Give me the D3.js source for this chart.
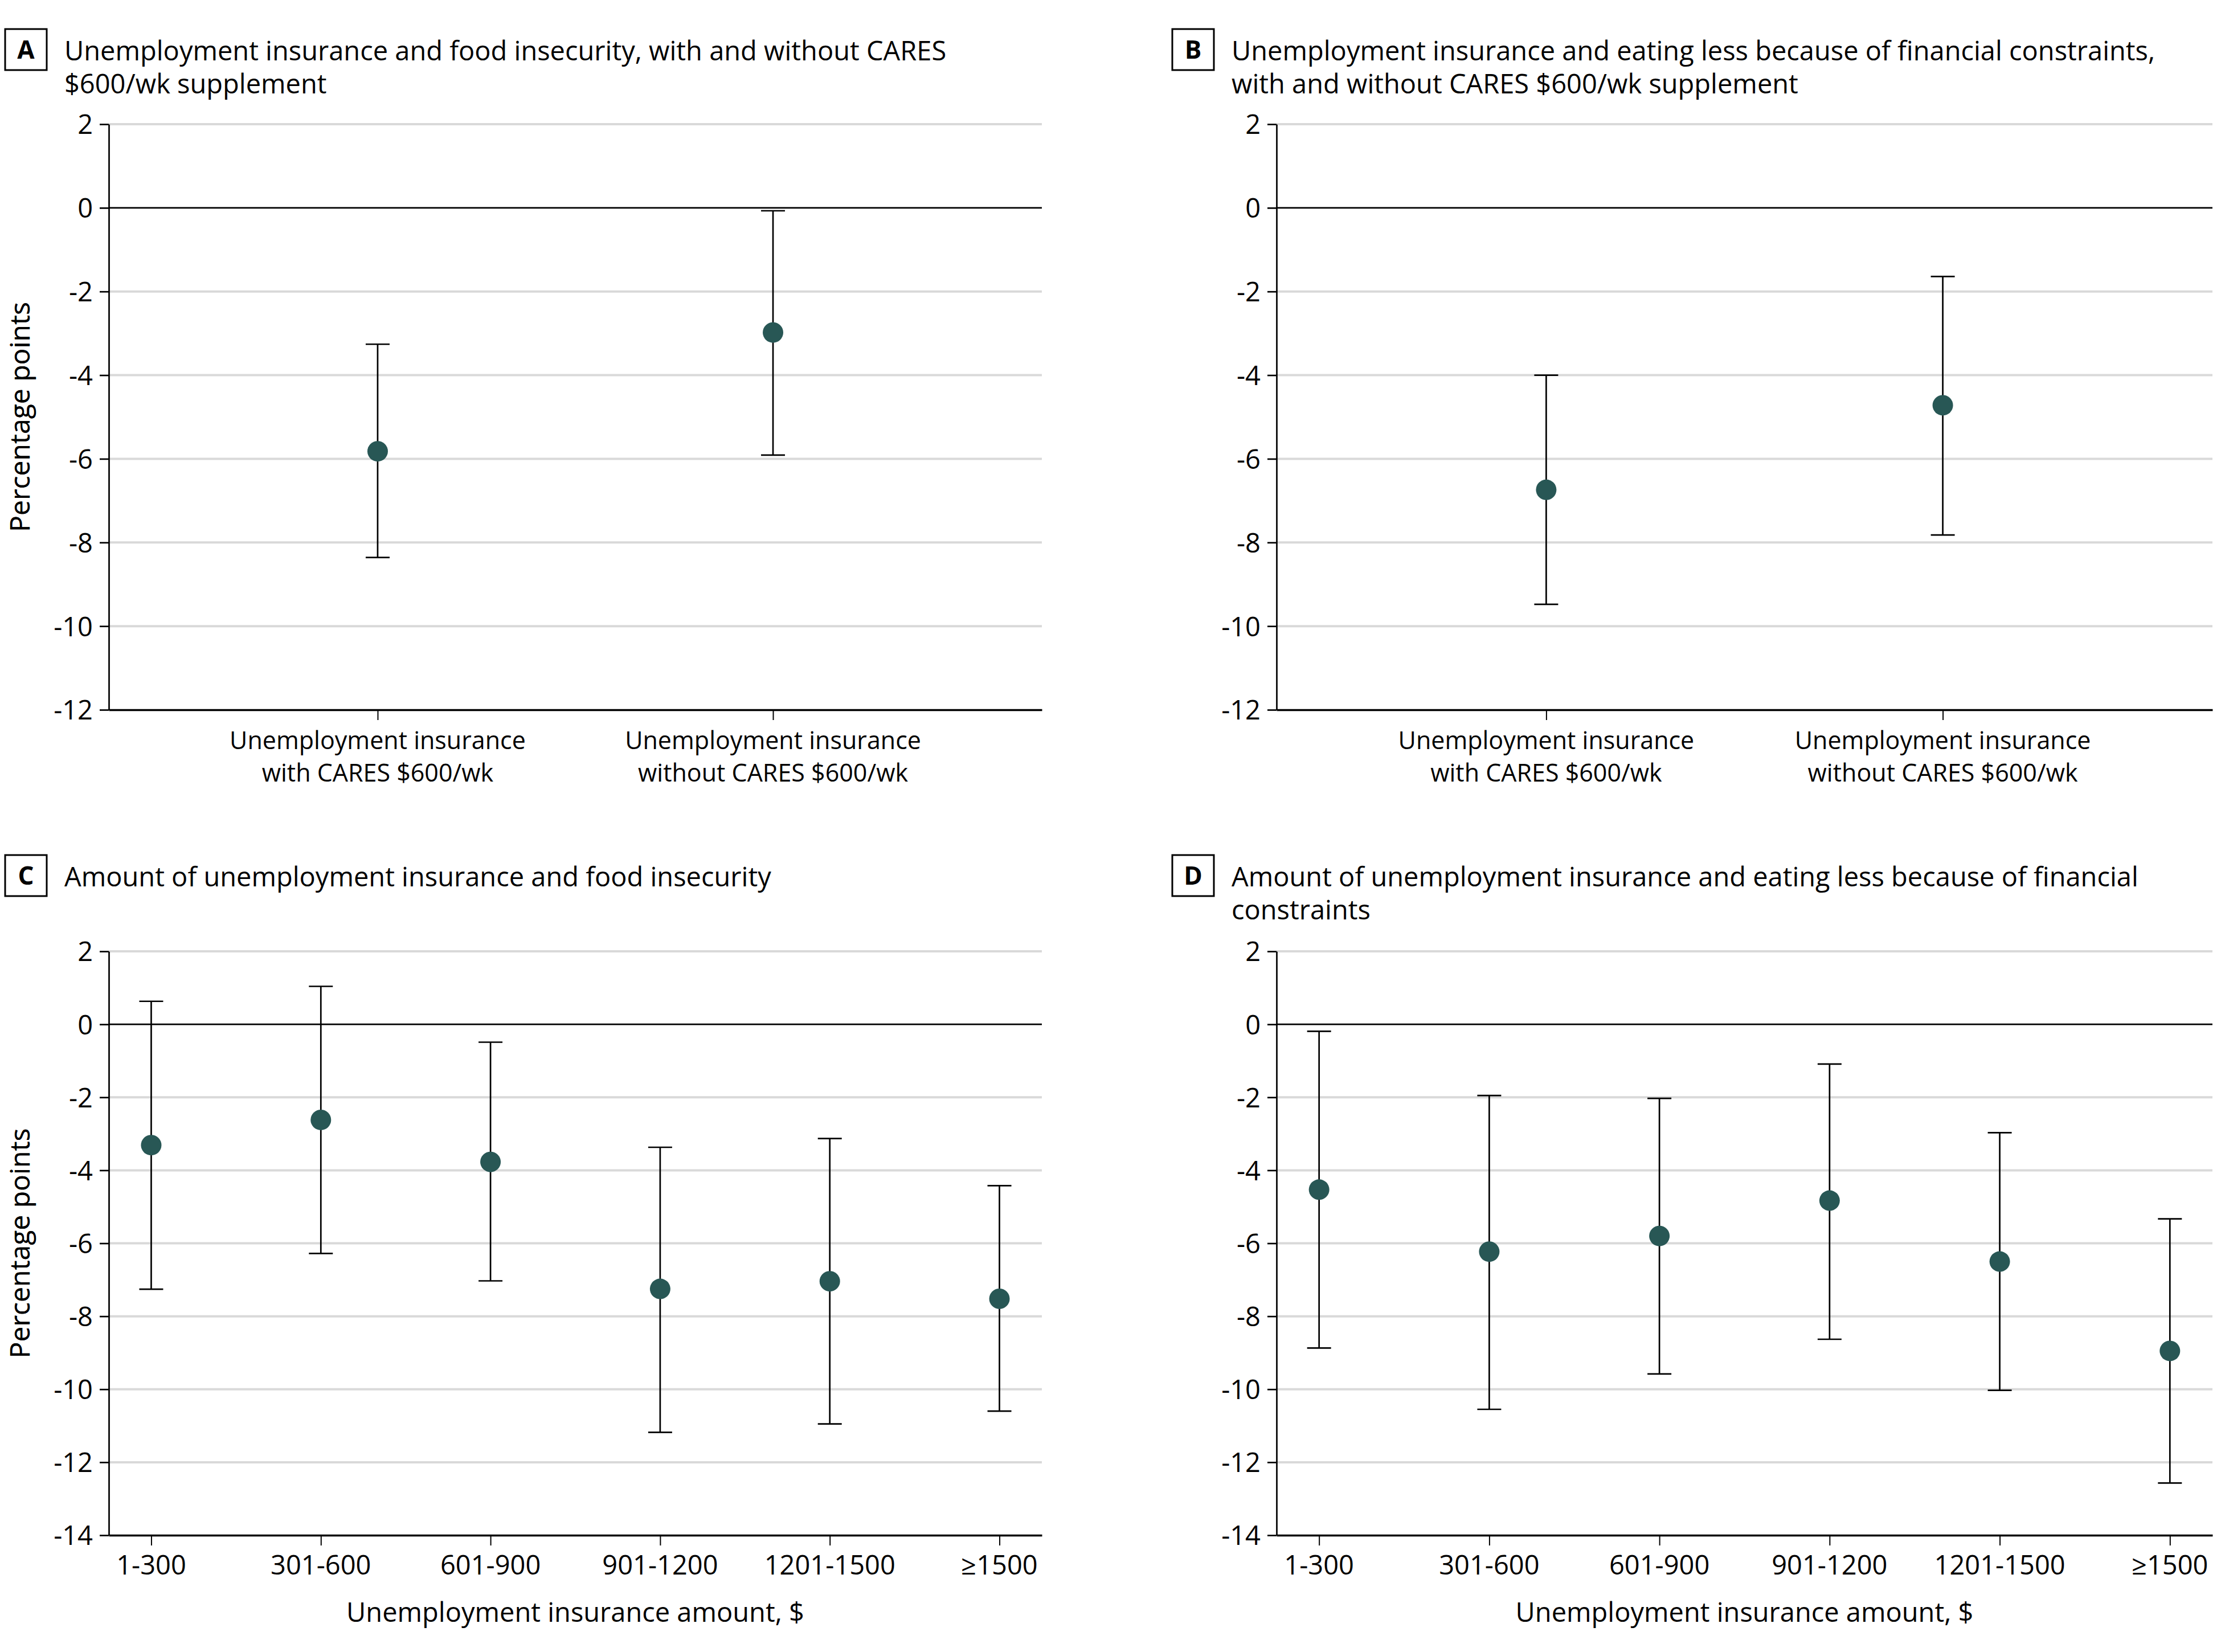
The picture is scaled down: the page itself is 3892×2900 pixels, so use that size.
<!DOCTYPE html>
<html>
<head>
<meta charset="utf-8">
<script src="https://cdn.jsdelivr.net/npm/d3@7"></script>
<style>
  html, body { margin: 0; padding: 0; background: #fff; }
  svg { display: block; }
  text { font-family: "Open Sans", "Noto Sans", sans-serif; fill: #000; }
</style>
</head>
<body>
<script>
// ---------- DATA ----------
const labelsAB = ["Unemployment insurance|with CARES $600/wk", "Unemployment insurance|without CARES $600/wk"];
const labelsCD = ["1-300", "301-600", "601-900", "901-1200", "1201-1500", "\u22651500"];

const estA = [-5.82, -2.98];
const lowA = [-8.36, -5.91];
const highA = [-3.26, -0.07];

const estB = [-6.74, -4.72];
const lowB = [-9.48, -7.82];
const highB = [-4.00, -1.64];

const estC = [-3.31, -2.62, -3.77, -7.25, -7.04, -7.52];
const lowC = [-7.26, -6.28, -7.03, -11.18, -10.95, -10.60];
const highC = [0.63, 1.04, -0.49, -3.37, -3.13, -4.42];

const estD = [-4.53, -6.23, -5.80, -4.83, -6.50, -8.95];
const lowD = [-8.87, -10.55, -9.58, -8.63, -10.03, -12.57];
const highD = [-0.19, -1.95, -2.03, -1.09, -2.97, -5.33];

const yTicksAB = [-12, -10, -8, -6, -4, -2, 0, 2];
const yTicksCD = [-14, -12, -10, -8, -6, -4, -2, 0, 2];

const titleA = ["Unemployment insurance and food insecurity, with and without CARES", "$600/wk supplement"];
const titleB = ["Unemployment insurance and eating less because of financial constraints,", "with and without CARES $600/wk supplement"];
const titleC = ["Amount of unemployment insurance and food insecurity"];
const titleD = ["Amount of unemployment insurance and eating less because of financial", "constraints"];

const yTitle = "Percentage points";
const xTitleCD = "Unemployment insurance amount, $";

// ---------- LAYOUT ----------
const W = 3892, H = 2900;
const svg = d3.select("body").append("svg").attr("width", W).attr("height", H);

const dotColor = "#285755";
const gridColor = "#d9d9d9";

const panels = [
  { key: "A", title: titleA, cats: labelsAB, est: estA, lo: lowA, hi: highA, ticks: yTicksAB,
    x0: 191, x1: 1829, yTop: 218, yBot: 1246, pad: 0.68, boxX: 9, boxY: 51, titleX: 113, xTitle: null, xfs: 43 },
  { key: "B", title: titleB, cats: labelsAB, est: estB, lo: lowB, hi: highB, ticks: yTicksAB,
    x0: 2241, x1: 3884, yTop: 218, yBot: 1246, pad: 0.68, boxX: 2058, boxY: 51, titleX: 2162, xTitle: null, xfs: 43 },
  { key: "C", title: titleC, cats: labelsCD, est: estC, lo: lowC, hi: highC, ticks: yTicksCD,
    x0: 191, x1: 1829, yTop: 1670, yBot: 2695, pad: 0.25, boxX: 9, boxY: 1501, titleX: 113, xTitle: xTitleCD, xfs: 47 },
  { key: "D", title: titleD, cats: labelsCD, est: estD, lo: lowD, hi: highD, ticks: yTicksCD,
    x0: 2241, x1: 3884, yTop: 1670, yBot: 2695, pad: 0.25, boxX: 2058, boxY: 1501, titleX: 2162, xTitle: xTitleCD, xfs: 47 }
];

panels.forEach(p => {
  const g = svg.append("g");
  const ext = d3.extent(p.ticks);
  const y = d3.scaleLinear().domain(ext).range([p.yBot, p.yTop]);
  const x = d3.scalePoint().domain(p.cats).range([p.x0, p.x1]).padding(p.pad);

  // panel letter box
  g.append("rect").attr("x", p.boxX).attr("y", p.boxY).attr("width", 73).attr("height", 72)
    .attr("fill", "#fff").attr("stroke", "#000").attr("stroke-width", 3);
  g.append("text").attr("x", p.boxX + 36.5).attr("y", p.boxY + 52).attr("text-anchor", "middle")
    .style("font-weight", "700").style("font-size", "44px").text(p.key);

  // title
  p.title.forEach((line, i) => {
    g.append("text").attr("x", p.titleX).attr("y", p.boxY + 55 + i * 58)
      .style("font-size", "47px").text(line);
  });

  // gridlines
  g.append("g").selectAll("line").data(p.ticks.filter(t => t !== 0 && t !== ext[0])).join("line")
    .attr("x1", p.x0).attr("x2", p.x1).attr("y1", d => y(d)).attr("y2", d => y(d))
    .attr("stroke", gridColor).attr("stroke-width", 4);
  // zero line
  g.append("line").attr("x1", p.x0).attr("x2", p.x1).attr("y1", y(0)).attr("y2", y(0))
    .attr("stroke", "#000").attr("stroke-width", 2.7);

  // y axis
  const yAxis = d3.axisLeft(y).tickValues(p.ticks).tickSize(16).tickSizeOuter(0).tickPadding(12)
    .tickFormat(d => d < 0 ? "-" + Math.abs(d) : String(d));
  const ya = g.append("g").attr("transform", `translate(${p.x0},0)`).call(yAxis);
  ya.select(".domain").attr("stroke-width", 2.7);
  ya.selectAll(".tick line").attr("stroke-width", 2.7);
  ya.selectAll(".tick text").style("font-size", "47px").attr("font-family", null).attr("dy", "0.36em");

  // x axis
  const xAxis = d3.axisBottom(x).tickSize(18).tickSizeOuter(0).tickFormat("");
  const xa = g.append("g").attr("transform", `translate(0,${p.yBot})`).call(xAxis);
  xa.select(".domain").attr("stroke-width", 3.5);
  xa.selectAll(".tick line").attr("stroke-width", 2);

  // x tick labels (multi-line)
  p.cats.forEach(c => {
    c.split("|").forEach((line, i) => {
      g.append("text").attr("x", x(c)).attr("y", p.yBot + 69 + i * 57)
        .attr("text-anchor", "middle").style("font-size", p.xfs + "px").text(line);
    });
  });

  // y title
  g.append("text").attr("transform", `translate(52,${(p.yTop + p.yBot) / 2}) rotate(-90)`)
    .attr("text-anchor", "middle").style("font-size", "48px").text(yTitle);

  // x title
  if (p.xTitle) {
    g.append("text").attr("x", (p.x0 + p.x1) / 2).attr("y", p.yBot + 152)
      .attr("text-anchor", "middle").style("font-size", "47px").text(p.xTitle);
  }

  // error bars
  const data = p.cats.map((c, i) => ({ c, est: p.est[i], lo: p.lo[i], hi: p.hi[i] }));
  const eb = g.append("g").attr("stroke", "#000").attr("stroke-width", 2.7);
  eb.selectAll("line.v").data(data).join("line").attr("class", "v")
    .attr("x1", d => x(d.c)).attr("x2", d => x(d.c)).attr("y1", d => y(d.hi)).attr("y2", d => y(d.lo));
  eb.selectAll("line.t").data(data).join("line").attr("class", "t")
    .attr("x1", d => x(d.c) - 21).attr("x2", d => x(d.c) + 21).attr("y1", d => y(d.hi)).attr("y2", d => y(d.hi));
  eb.selectAll("line.b").data(data).join("line").attr("class", "b")
    .attr("x1", d => x(d.c) - 21).attr("x2", d => x(d.c) + 21).attr("y1", d => y(d.lo)).attr("y2", d => y(d.lo));

  g.append("g").selectAll("circle").data(data).join("circle")
    .attr("cx", d => x(d.c)).attr("cy", d => y(d.est)).attr("r", 18).attr("fill", dotColor);
});
</script>
</body>
</html>
